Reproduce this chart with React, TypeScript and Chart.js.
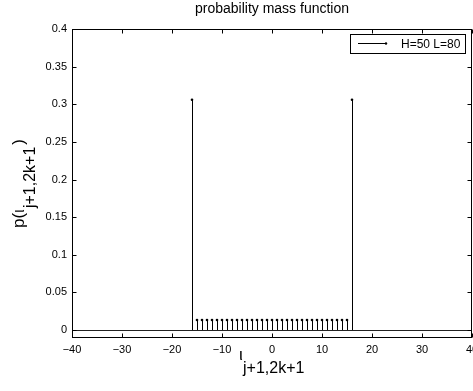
import React, { useEffect, useRef } from 'react';
import { Chart, registerables } from 'chart.js';
Chart.register(...registerables);

const stemX = [-16, -15, -14, -13, -12, -11, -10, -9, -8, -7, -6, -5, -4, -3, -2, -1, 0, 1, 2, 3, 4, 5, 6, 7, 8, 9, 10, 11, 12, 13, 14, 15, 16];
const stemY = [0.306, 0.0133, 0.0133, 0.0133, 0.0133, 0.0133, 0.0133, 0.0133, 0.0133, 0.0133, 0.0133, 0.0133, 0.0133, 0.0133, 0.0133, 0.0133, 0.0133, 0.0133, 0.0133, 0.0133, 0.0133, 0.0133, 0.0133, 0.0133, 0.0133, 0.0133, 0.0133, 0.0133, 0.0133, 0.0133, 0.0133, 0.0133, 0.306];
const xTicks = [-40, -30, -20, -10, 0, 10, 20, 30, 40];
const yTicks = [0, 0.05, 0.1, 0.15, 0.2, 0.25, 0.3, 0.35, 0.4];
const baseX = [-40, 40];
const seriesLabel = 'H=50 L=80';
const titleText = 'probability mass function';

const FONT = '"Liberation Sans", Arial, Helvetica, sans-serif';

const fmt = (v: number) => {
  const s = String(Math.round(v * 1000) / 1000);
  return s.replace('-', '\u2212');
};

const decor = {
  id: 'decor',
  beforeDatasetsDraw(chart: any) {
    const { ctx, scales } = chart;
    const xs = scales.x, ys = scales.y;
    ctx.save();
    ctx.strokeStyle = '#222';
    ctx.lineWidth = 1;
    const y0 = Math.round(ys.getPixelForValue(0)) + 0.5;
    ctx.beginPath();
    ctx.moveTo(xs.getPixelForValue(baseX[0]), y0);
    ctx.lineTo(xs.getPixelForValue(baseX[1]), y0);
    ctx.stroke();
    ctx.strokeStyle = '#000';
    for (let i = 0; i < stemX.length; i++) {
      const px = Math.round(xs.getPixelForValue(stemX[i])) + 0.5;
      ctx.beginPath();
      ctx.moveTo(px, ys.getPixelForValue(0));
      ctx.lineTo(px, ys.getPixelForValue(stemY[i]));
      ctx.stroke();
    }
    ctx.restore();
  },
  afterDraw(chart: any) {
    const { ctx, chartArea: a, scales } = chart;
    const xs = scales.x, ys = scales.y;
    ctx.save();
    ctx.strokeStyle = '#000';
    ctx.lineWidth = 1;
    const L = Math.round(a.left) + 0.5, R = Math.round(a.right) - 0.5;
    const T = Math.round(a.top) + 0.5, B = Math.round(a.bottom) - 0.5;
    ctx.strokeRect(L, T, R - L, B - T);
    ctx.beginPath();
    for (const v of xTicks) {
      const px = Math.round(xs.getPixelForValue(v)) + 0.5;
      ctx.moveTo(px, B); ctx.lineTo(px, B - 4);
      ctx.moveTo(px, T); ctx.lineTo(px, T + 4);
    }
    for (const v of yTicks) {
      const py = Math.round(ys.getPixelForValue(v)) + 0.5;
      ctx.moveTo(L, py); ctx.lineTo(L + 4, py);
      ctx.moveTo(R, py); ctx.lineTo(R - 4, py);
    }
    ctx.stroke();

    // tick labels
    ctx.fillStyle = '#000';
    ctx.font = `11px ${FONT}`;
    ctx.textAlign = 'center';
    ctx.textBaseline = 'alphabetic';
    for (const v of xTicks) {
      ctx.fillText(fmt(v), xs.getPixelForValue(v), 353);
    }
    ctx.textAlign = 'right';
    ctx.textBaseline = 'middle';
    for (const v of yTicks) {
      ctx.fillText(fmt(v), a.left - 5, ys.getPixelForValue(v));
    }

    // title
    ctx.font = `14px ${FONT}`;
    ctx.textAlign = 'center';
    ctx.textBaseline = 'alphabetic';
    ctx.fillText(titleText, 272, 13);

    // x label
    ctx.textAlign = 'left';
    const mainFont = `17px ${FONT}`;
    const subFont = `16px ${FONT}`;
    ctx.font = mainFont;
    ctx.fillText('\u03B9', 239, 360);
    ctx.font = subFont;
    ctx.fillText('j+1,2k+1', 243, 373);

    // y label rotated
    ctx.save();
    ctx.translate(24, 228);
    ctx.rotate(-Math.PI / 2);
    ctx.font = mainFont;
    let x0 = 0;
    ctx.fillText('p(\u03B9', x0, 0);
    x0 += ctx.measureText('p(\u03B9').width + 1;
    ctx.font = subFont;
    ctx.fillText('j+1,2k+1', x0, 11);
    x0 += ctx.measureText('j+1,2k+1').width + 2;
    ctx.font = mainFont;
    ctx.fillText(')', x0, 0);
    ctx.restore();

    // legend
    const lx = 350.5, ly = 34.5, lw = 115, lh = 19;
    ctx.fillStyle = '#fff';
    ctx.fillRect(lx, ly, lw, lh);
    ctx.strokeRect(lx, ly, lw, lh);
    ctx.beginPath();
    ctx.moveTo(358, 43.5);
    ctx.lineTo(386, 43.5);
    ctx.stroke();
    ctx.fillStyle = '#000';
    ctx.beginPath();
    ctx.arc(386, 43.5, 1.2, 0, Math.PI * 2);
    ctx.fill();
    ctx.font = `12px ${FONT}`;
    ctx.textBaseline = 'middle';
    ctx.fillText(seriesLabel, 401, 44.5);
    ctx.restore();
  },
};

export default function App() {
  const ref = useRef<HTMLCanvasElement>(null);
  useEffect(() => {
    document.body.style.margin = '0';
    const chart = new Chart(ref.current!, {
      type: 'scatter',
      data: {
        datasets: [
          {
            label: seriesLabel,
            data: stemX.map((x, i) => ({ x, y: stemY[i] })),
            pointRadius: 1.3,
            pointHoverRadius: 1.3,
            pointBackgroundColor: '#000',
            pointBorderWidth: 0,
            showLine: false,
          },
        ],
      },
      options: {
        animation: false,
        responsive: false,
        layout: { autoPadding: false, padding: { top: 29, right: 1, left: 0, bottom: 0 } },
        plugins: { legend: { display: false }, tooltip: { enabled: false }, title: { display: false } },
        scales: {
          x: {
            type: 'linear',
            min: -40,
            max: 40,
            afterBuildTicks: (s: any) => { s.ticks = xTicks.map((v) => ({ value: v })); },
            afterFit: (s: any) => { s.height = 53; },
            grid: { display: false, drawTicks: false },
            border: { display: false },
            ticks: { display: false },
          },
          y: {
            type: 'linear',
            min: -0.0106,
            max: 0.4,
            afterBuildTicks: (s: any) => { s.ticks = yTicks.map((v) => ({ value: v })); },
            afterFit: (s: any) => { s.width = 72; },
            grid: { display: false, drawTicks: false },
            border: { display: false },
            ticks: { display: false },
          },
        },
      },
      plugins: [decor],
    });
    return () => chart.destroy();
  }, []);
  return (
    <div style={{ position: 'absolute', left: 0, top: 0 }}>
      <canvas ref={ref} width={473} height={391} style={{ width: 473, height: 391, display: 'block' }} />
    </div>
  );
}
